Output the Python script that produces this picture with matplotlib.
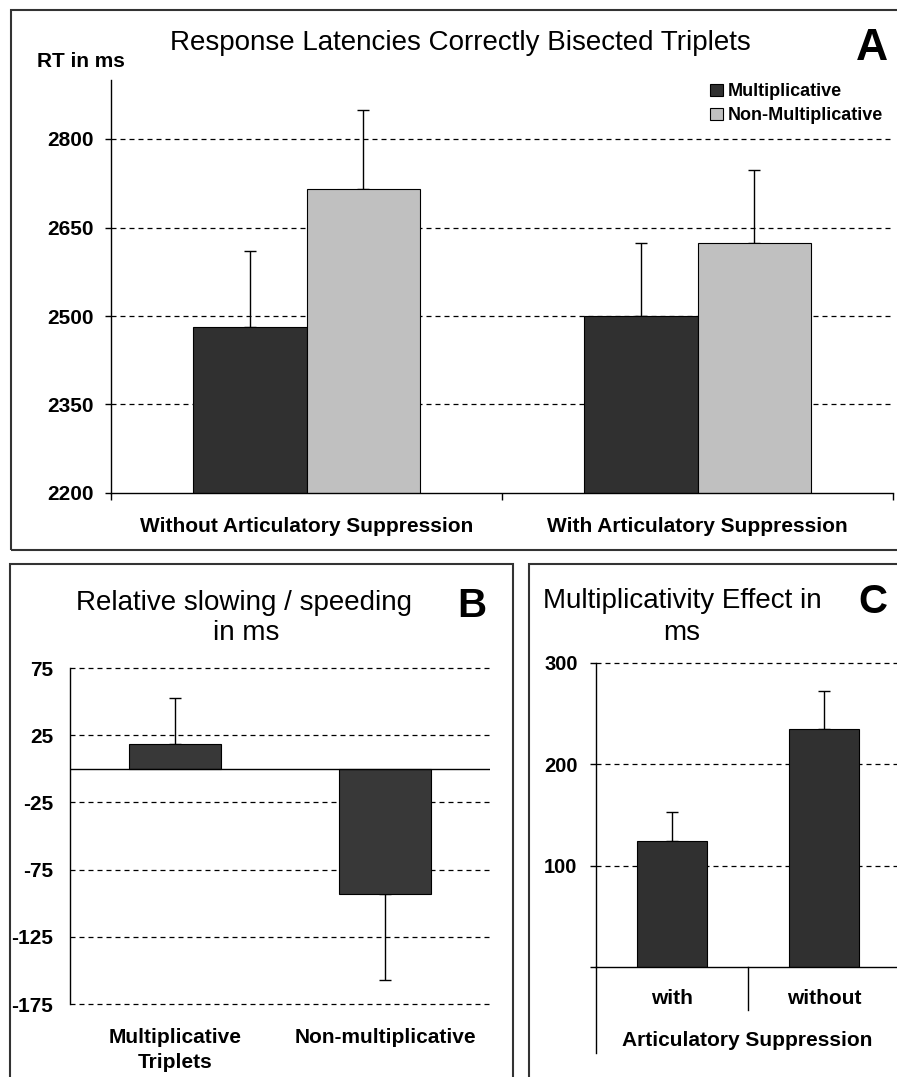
import numpy as np
import matplotlib.pyplot as plt
from matplotlib.lines import Line2D
from matplotlib.patches import Rectangle

W, H = 897, 1077

# panel A data
groups_a = ['Without Articulatory Suppression', 'With Articulatory Suppression']
mult_a = [2481, 2500]
mult_a_err = [129, 124]
nonmult_a = [2716, 2623]
nonmult_a_err = [133, 125]
yticks_a = [2200, 2350, 2500, 2650, 2800]

# panel B data
cats_b = ['Multiplicative\nTriplets', 'Non-multiplicative']
vals_b = [18.5, -93]
err_b = [34, 64]
yticks_b = [75, 25, -25, -75, -125, -175]

# panel C data
cats_c = ['with', 'without']
vals_c = [124, 235]
err_c = [29, 37]
yticks_c = [0, 100, 200, 300]

DARK = '#303030'
LIGHT = '#c0c0c0'
FONT = 'Liberation Sans'
plt.rcParams['font.family'] = [FONT, 'DejaVu Sans']


def box(l, t, r, b):
    return [l / W, 1 - b / H, (r - l) / W, (b - t) / H]


def fx(x):
    return x / W


def fy(y):
    return 1 - y / H


fig = plt.figure(figsize=(W / 100, H / 100), dpi=100)

# panel frames
for l, t, r, b in [(11, 10, 905, 550), (10, 564, 513, 1085), (529, 564, 905, 1085)]:
    fig.patches.append(Rectangle((fx(l), fy(b)), fx(r) - fx(l), fy(t) - fy(b),
                                 transform=fig.transFigure, fill=False,
                                 edgecolor='#333333', linewidth=1.5))

grid_kw = dict(color='black', linewidth=0.9, linestyle=(0, (4, 3.2)), zorder=0,
               clip_on=False)
tick_font = dict(fontsize=15, fontweight='bold')

# ---------------- A ----------------
ax = fig.add_axes(box(111, 80, 893, 493))
x = np.arange(len(groups_a))
bw = 0.29
b1 = ax.bar(x - bw / 2, mult_a, bw, color=DARK, edgecolor='black', linewidth=0.8,
            label='Multiplicative', zorder=2)
b2 = ax.bar(x + bw / 2, nonmult_a, bw, color=LIGHT, edgecolor='black', linewidth=0.8,
            label='Non-Multiplicative', zorder=2)
ax.errorbar(x - bw / 2, mult_a, yerr=[np.zeros(2), mult_a_err], fmt='none',
            ecolor='black', elinewidth=1, capsize=4.5, capthick=1, zorder=1)
ax.errorbar(x + bw / 2, nonmult_a, yerr=[np.zeros(2), nonmult_a_err], fmt='none',
            ecolor='black', elinewidth=1, capsize=4.5, capthick=1, zorder=1)
for v in yticks_a[1:]:
    ax.axhline(v, **grid_kw)
ax.set_ylim(2200, 2900)
ax.set_xlim(-0.5, 1.5)
ax.set_yticks(yticks_a)
ax.set_yticklabels([str(v) for v in yticks_a], **tick_font)
ax.set_xticks(x)
ax.set_xticklabels(groups_a, **tick_font)
ax.set_xticks([-0.5, 0.5, 1.5], minor=True)
ax.tick_params(axis='x', which='major', length=0, pad=17)
ax.tick_params(axis='x', which='minor', length=5, width=1)
ax.tick_params(axis='y', length=4.3, width=1, pad=8)
for s in ['top', 'right']:
    ax.spines[s].set_visible(False)
for s in ['left', 'bottom']:
    ax.spines[s].set_linewidth(1)
ax.legend(handles=[b1, b2], loc='upper right', bbox_to_anchor=(fx(890), fy(76)),
          bbox_transform=fig.transFigure, frameon=False, handlelength=0.7,
          handleheight=0.7, handletextpad=0.25, labelspacing=0.4,
          prop=dict(family=FONT, size=13, weight='bold'), borderaxespad=0)
fig.text(fx(460), fy(50), 'Response Latencies Correctly Bisected Triplets',
         ha='center', va='baseline', fontsize=20)
fig.text(fx(872), fy(60), 'A', ha='center', va='baseline', fontsize=32,
         fontweight='bold')
fig.text(fx(37), fy(67), 'RT in ms', ha='left', va='baseline', fontsize=15,
         fontweight='bold')

# ---------------- B ----------------
ax = fig.add_axes(box(70, 668, 490, 1004))
xb = np.arange(len(cats_b))
ax.bar(xb, vals_b, 0.44, color='#383838', edgecolor='black', linewidth=0.8, zorder=2)
lower = [0 if v > 0 else e for v, e in zip(vals_b, err_b)]
upper = [e if v > 0 else 0 for v, e in zip(vals_b, err_b)]
ax.errorbar(xb, vals_b, yerr=[lower, upper], fmt='none', ecolor='black',
            elinewidth=1, capsize=4.5, capthick=1, zorder=1)
for v in yticks_b:
    ax.axhline(v, **grid_kw)
ax.axhline(0, color='black', linewidth=1, zorder=3)
ax.set_ylim(-175, 75)
ax.set_xlim(-0.5, 1.5)
ax.set_yticks(yticks_b)
ax.set_yticklabels([str(v) for v in yticks_b], **tick_font)
ax.set_xticks(xb)
ax.set_xticklabels(cats_b, linespacing=1.4, **tick_font)
ax.tick_params(axis='x', length=0, pad=17)
ax.tick_params(axis='y', length=0, pad=12)
for s in ['top', 'right', 'bottom']:
    ax.spines[s].set_visible(False)
ax.spines['left'].set_linewidth(1)
fig.text(fx(244), fy(610), 'Relative slowing / speeding', ha='center',
         va='baseline', fontsize=20)
fig.text(fx(246), fy(640), 'in ms', ha='center', va='baseline', fontsize=20)
fig.text(fx(472), fy(617), 'B', ha='center', va='baseline', fontsize=29,
         fontweight='bold')

# ---------------- C ----------------
ax = fig.add_axes(box(596, 663, 900, 967))
xc = np.arange(len(cats_c))
ax.bar(xc, vals_c, 0.46, color=DARK, edgecolor='black', linewidth=0.8, zorder=2)
ax.errorbar(xc, vals_c, yerr=[np.zeros(2), err_c], fmt='none', ecolor='black',
            elinewidth=1, capsize=4.5, capthick=1, zorder=1)
for v in yticks_c[1:]:
    ax.axhline(v, **grid_kw)
ax.set_ylim(0, 300)
ax.set_xlim(-0.5, 1.5)
ax.set_yticks(yticks_c[1:])
ax.set_yticklabels([str(v) for v in yticks_c[1:]], fontsize=14.5, fontweight='bold')
ax.set_yticks([0], minor=True)
ax.set_xticks(xc)
ax.set_xticklabels(cats_c, **tick_font)
ax.tick_params(axis='x', length=0, pad=16)
ax.tick_params(axis='y', which='both', length=4.3, width=1, pad=9)
for s in ['top', 'right']:
    ax.spines[s].set_visible(False)
for s in ['left', 'bottom']:
    ax.spines[s].set_linewidth(1)
ax.spines['bottom'].set_zorder(4)
fig.lines.append(Line2D([fx(596), fx(596)], [fy(967), fy(1053)],
                        transform=fig.transFigure, color='black', linewidth=1))
fig.lines.append(Line2D([fx(748), fx(748)], [fy(967), fy(1010)],
                        transform=fig.transFigure, color='black', linewidth=1))
fig.text(fx(747), fy(1040), 'Articulatory Suppression', ha='center', va='center',
         **tick_font)
fig.text(fx(682), fy(608), 'Multiplicativity Effect in', ha='center',
         va='baseline', fontsize=20)
fig.text(fx(682), fy(640), 'ms', ha='center', va='baseline', fontsize=20)
fig.text(fx(873), fy(613), 'C', ha='center', va='baseline', fontsize=29,
         fontweight='bold')

fig.savefig('out.png', dpi=100)
